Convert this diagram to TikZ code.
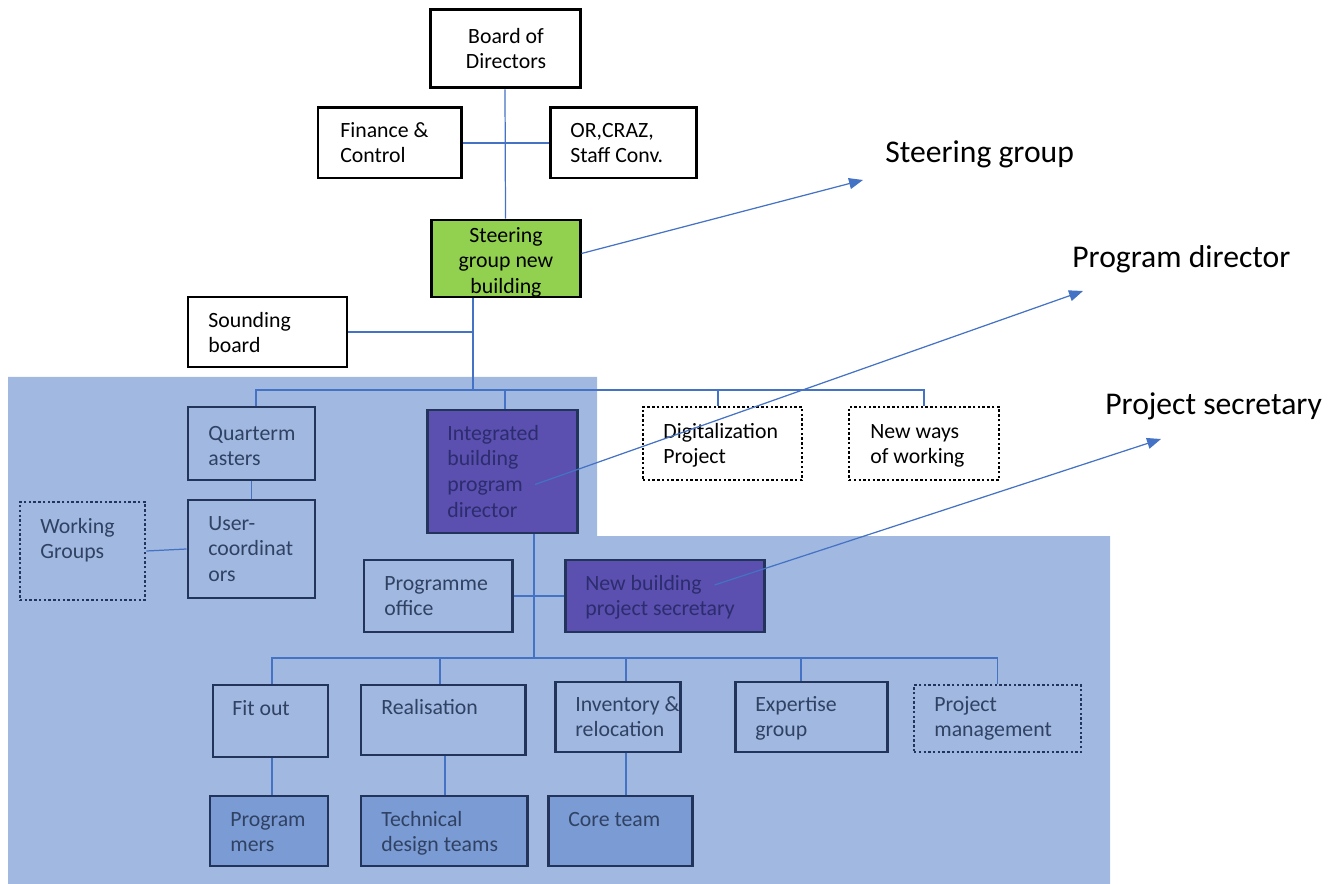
\documentclass[tikz,border=0pt]{standalone}
\usepackage{fontspec}
\setmainfont{Carlito}
\usetikzlibrary{arrows.meta,fit,calc}

\definecolor{linkblue}{HTML}{4472C4}
\definecolor{veil}{HTML}{A1B8E0}
\definecolor{veilink}{HTML}{304263}
\definecolor{veilrule}{HTML}{22345A}
\definecolor{leadfill}{HTML}{5B4FAF}
\definecolor{leadink}{HTML}{2C2D6E}
\definecolor{teamfill}{HTML}{7B9BD4}
\definecolor{steerfill}{HTML}{92D050}

\tikzset{
  x=0.02cm, y=-0.02cm,
  frame/.style={draw=black, line width=1.7pt, inner sep=0pt},
  dotframe/.style={draw=black, line width=1.6pt, dash pattern=on 1.4pt off 1.3pt, inner sep=0pt},
  vframe/.style={draw=veilrule, line width=1.7pt, inner sep=0pt},
  vdotframe/.style={draw=veilrule, line width=1.6pt, dash pattern=on 1.4pt off 1.3pt, inner sep=0pt},
  leadframe/.style={vframe, fill=leadfill},
  teamframe/.style={vframe, fill=teamfill},
  txt/.style={inner sep=0pt, align=left, anchor=north west,
    font=\fontsize{12.4}{14.6}\selectfont},
  ctxt/.style={txt, align=center, anchor=north},
  bigtxt/.style={inner sep=0pt, anchor=base west, font=\fontsize{18}{22}\selectfont},
  link/.style={draw=linkblue, line width=0.7pt},
  pointer/.style={link, -{Triangle[length=0.28cm, width=0.22cm]}},
}

\begin{document}
\begin{tikzpicture}
\useasboundingbox (0,0) rectangle (1334,884);

% shaded programme area
\fill[veil] (8,377) -- (597,377) -- (597,536) -- (1110,536) -- (1110,884) -- (8,884) -- cycle;

% ---- governance boxes
\node[frame, fit={(430,10)(580,88)}] (board) {};
\node[frame, fit={(318,108)(461,178)}] (fin) {};
\node[frame, fit={(550,108)(696,178)}] (orc) {};
\node[frame, fill=steerfill, fit={(431,220)(580,297)}] (steer) {};
\node[frame, fit={(188,297)(347,367)}] (sound) {};
\node[dotframe, fit={(643,407)(802,480)}] (digi) {};
\node[dotframe, fit={(849,407)(999,480)}] (ways) {};

% ---- programme boxes
\node[vframe, fit={(188,407)(315,480)}] (quart) {};
\node[vframe, fit={(188,500)(315,598)}] (user) {};
\node[vdotframe, fit={(20,502)(145,600)}] (wg) {};
\node[leadframe, fit={(427,410)(577,533)}] (integ) {};
\node[vframe, fit={(364,560)(512,632)}] (office) {};
\node[leadframe, fit={(565,560)(764,632)}] (secr) {};
\node[vframe, fit={(213,685)(328,757)}] (fitout) {};
\node[vframe, fit={(361,685)(525,755)}] (realis) {};
\node[vframe, fit={(555,682)(680,752)}] (inv) {};
\node[vframe, fit={(735,682)(887,752)}] (expert) {};
\node[vdotframe, fit={(914,685)(1081,752)}] (projm) {};
\node[teamframe, fit={(210,796)(328,866)}] (progr) {};
\node[teamframe, fit={(361,796)(527,866)}] (tech) {};
\node[teamframe, fit={(548,796)(692,866)}] (core) {};

% ---- connectors
\coordinate (topbus) at (473,390);
\coordinate (lowbus) at (534,658);
\draw[link] (board.south) -- (steer.north);
\draw[link] (fin.east) -- (orc.west);
\draw[link] (steer.south -| topbus) -- (topbus);
\draw[link] (sound.east) -- (sound.east -| topbus);
\draw[link] (quart.north -| 256,0) -- (256,390) -- (ways.north |- topbus) -- (ways.north);
\draw[link] (integ.north -| 505,0) -- (505,390);
\draw[link] (digi.north -| 718,0) -- (718,390);
\draw[link] (quart.south) -- (user.north);
\draw[link] (wg.east) -- (user.west);
\draw[link] (integ.south -| lowbus) -- (lowbus);
\draw[link] (office.east) -- (secr.west);
\draw[link] (fitout.north -| 272,0) -- (272,658) -- (projm.north |- lowbus) -- (projm.north);
\draw[link] (realis.north -| 440,0) -- (440,658);
\draw[link] (inv.north -| 626,0) -- (626,658);
\draw[link] (expert.north -| 801,0) -- (801,658);
\draw[link] (fitout.south -| 272,0) -- (progr.north -| 272,0);
\draw[link] (realis.south -| 445,0) -- (tech.north -| 445,0);
\draw[link] (inv.south -| 626,0) -- (core.north -| 626,0);

% ---- box texts
\node[ctxt] (board-t) at (506,43-18) {\strut Board of\\Directors};
\node[txt] (fin-t) at (340,137-18) {\strut Finance \&\\Control};
\node[txt] (orc-t) at (570,137-18) {\strut OR,CRAZ,\\Staff Conv.};
\node[ctxt] (steer-t) at (506,242-18) {\strut Steering\\group new\\building};
\node[txt] (sound-t) at (208,327-18) {\strut Sounding\\board};
\node[txt] (digi-t) at (663,438-18) {\strut Digitalization\\Project};
\node[txt] (ways-t) at (870,438-18) {\strut New ways\\of working};

\begin{scope}[every node/.append style={text=veilink}]
\node[txt] (quart-t) at (208,440-18) {\strut Quarterm\\asters};
\node[txt] (user-t) at (208,530-18) {\strut User-\\coordinat\\ors};
\node[txt] (wg-t) at (40,533-18) {\strut Working\\Groups};
\node[txt] (office-t) at (384,590-18) {\strut Programme\\office};
\node[txt] (fitout-t) at (232,715-18) {\strut Fit out};
\node[txt] (realis-t) at (381,714-18) {\strut Realisation};
\node[txt] (inv-t) at (575,711-18) {\strut Inventory \&\\relocation};
\node[txt] (expert-t) at (755,711-18) {\strut Expertise\\group};
\node[txt] (projm-t) at (934,711-18) {\strut Project\\management};
\node[txt] (progr-t) at (230,826-18) {\strut Program\\mers};
\node[txt] (tech-t) at (381,826-18) {\strut Technical\\design teams};
\node[txt] (core-t) at (568,826-18) {\strut Core team};
\end{scope}
\node[txt, text=leadink] (integ-t) at (447,440-18) {\strut Integrated\\building\\program\\director};
\node[txt, text=leadink] (secr-t) at (585,590-18) {\strut New building\\project secretary};

% ---- role pointers
\coordinate (sg-tip) at (863,180);
\coordinate (pd-tip) at (1083,291);
\coordinate (ps-tip) at (1161,439);
\draw[pointer] ($(steer.east)+(0,-5)$) -- (sg-tip);
\draw[pointer] ($(integ.center)+(33,13)$) -- (pd-tip);
\draw[pointer] ($(secr.center)+(50,-11)$) -- (ps-tip);
\node[bigtxt] (sg-label) at (885,163) {Steering group};
\node[bigtxt] (pd-label) at (1072,268) {Program director};
\node[bigtxt] (ps-label) at (1105,415) {Project secretary};
\end{tikzpicture}
\end{document}
